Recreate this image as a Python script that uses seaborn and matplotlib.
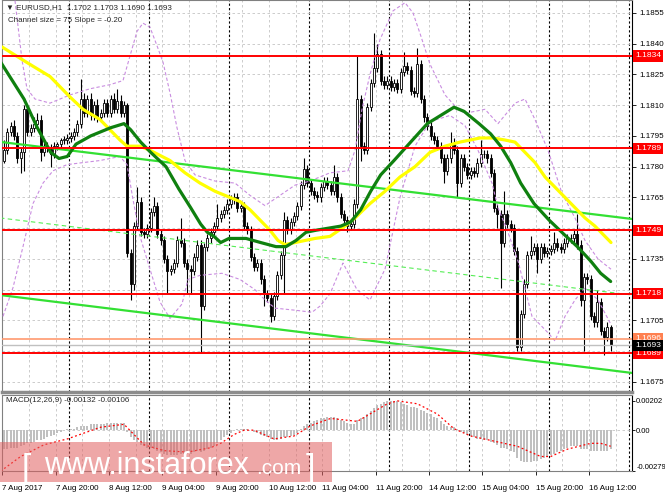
import matplotlib
matplotlib.use('Agg')
import matplotlib.pyplot as plt
from matplotlib.patches import Rectangle
import seaborn as sns
import numpy as np
import pandas as pd

# ---- data (7 Aug 04:00 .. 16 Aug 18:00) ----
first_open = 1.1783
closes = [
    1.1788, 1.1797, 1.1800, 1.1795, 1.1784, 1.1787, 1.1808, 1.1797, 1.1799, 1.1801,
    1.1803, 1.1787, 1.1790, 1.1789, 1.1786, 1.1790, 1.1791, 1.1793, 1.1793, 1.1794,
    1.1795, 1.1797, 1.1801, 1.1813, 1.1806, 1.1813, 1.1805, 1.1810, 1.1804, 1.1806,
    1.1811, 1.1806, 1.1813, 1.1808, 1.1812, 1.1806, 1.1810, 1.1738, 1.1723, 1.1751,
    1.1763, 1.1748, 1.1747, 1.1750, 1.1758, 1.1761, 1.1747, 1.1744, 1.1735, 1.1729,
    1.1730, 1.1733, 1.1744, 1.1743, 1.1733, 1.1730, 1.1729, 1.1736, 1.1742, 1.1712,
    1.1741, 1.1745, 1.1748, 1.1751, 1.1755, 1.1757, 1.1759, 1.1762, 1.1764, 1.1765,
    1.1760, 1.1761, 1.1751, 1.1749, 1.1736, 1.1731, 1.1733, 1.1725, 1.1718, 1.1716,
    1.1707, 1.1717, 1.1727, 1.1737, 1.1754, 1.1749, 1.1753, 1.1756, 1.1761, 1.1771,
    1.1779, 1.1772, 1.1768, 1.1766, 1.1765, 1.1770, 1.1773, 1.1771, 1.1768, 1.1775,
    1.1765, 1.1757, 1.1754, 1.1751, 1.1752, 1.1762, 1.1813, 1.1790, 1.1788, 1.1809,
    1.1821, 1.1828, 1.1835, 1.1822, 1.1820, 1.1822, 1.1819, 1.1821, 1.1818, 1.1826,
    1.1829, 1.1827, 1.1817, 1.1816, 1.1830, 1.1813, 1.1804, 1.1800, 1.1795, 1.1793,
    1.1790, 1.1784, 1.1778, 1.1784, 1.1791, 1.1788, 1.1772, 1.1784, 1.1780, 1.1776,
    1.1778, 1.1777, 1.1782, 1.1786, 1.1786, 1.1784, 1.1777, 1.1760, 1.1757, 1.1743,
    1.1757, 1.1752, 1.1750, 1.1739, 1.1692, 1.1708, 1.1723, 1.1737, 1.1739, 1.1741,
    1.1735, 1.1741, 1.1738, 1.1739, 1.1740, 1.1743, 1.1741, 1.1740, 1.1743, 1.1745,
    1.1745, 1.1747, 1.1742, 1.1715, 1.1726, 1.1725, 1.1707, 1.1704, 1.1714, 1.1700,
    1.1697, 1.1702, 1.1693,
]
# wick lengths in pips above max(open, close) / below min(open, close)
upper_wick = [
    5, 2, 2, 3, 2, 2, 2, 2, 2, 3,   3, 2, 2, 2, 2, 2, 1, 1, 2, 2,
    2, 2, 2, 10, 3, 2, 3, 2, 3, 2,  2, 2, 2, 3, 6, 3, 2, 1, 2, 2,
    7, 2, 2, 2, 2, 4, 2, 2, 2, 2,   2, 2, 2, 11, 2, 2, 2, 2, 2, 2,
    2, 2, 2, 2, 7, 2, 2, 2, 2, 2,   2, 2, 2, 2, 2, 2, 2, 2, 2, 2,
    2, 2, 2, 2, 4, 2, 2, 2, 2, 2,   5, 2, 2, 2, 2, 2, 2, 2, 2, 6,
    2, 2, 2, 2, 2, 2, 21, 2, 2, 2,  2, 17, 5, 2, 2, 2, 2, 2, 2, 2,
    7, 2, 2, 2, 8, 2, 2, 2, 2, 2,   2, 2, 2, 2, 6, 3, 2, 2, 2, 2,
    2, 2, 2, 7, 2, 2, 2, 2, 2, 2,   11, 2, 2, 2, 2, 2, 2, 2, 7, 2,
    2, 2, 2, 2, 2, 5, 2, 2, 2, 2,   2, 2, 10, 2, 2, 2, 2, 2, 6, 2,
    2, 2, 1,
]
lower_wick = [
    1, 2, 2, 2, 2, 7, 9, 2, 2, 2,   2, 4, 2, 2, 6, 2, 2, 2, 2, 2,
    2, 2, 2, 2, 2, 2, 2, 2, 2, 2,   2, 2, 2, 2, 2, 2, 2, 2, 8, 3,
    2, 2, 2, 2, 2, 2, 2, 2, 2, 11,  2, 2, 2, 2, 2, 12, 11, 2, 2, 23,
    2, 2, 2, 2, 2, 2, 2, 2, 2, 2,   2, 2, 2, 2, 2, 2, 2, 2, 6, 2,
    3, 2, 2, 2, 19, 2, 2, 2, 2, 2,  2, 2, 2, 2, 2, 2, 2, 2, 2, 2,
    2, 2, 2, 3, 2, 2, 2, 7, 2, 2,   2, 2, 2, 2, 2, 2, 2, 2, 2, 2,
    2, 2, 2, 2, 2, 2, 2, 2, 2, 2,   2, 2, 6, 2, 2, 2, 7, 2, 2, 2,
    2, 2, 2, 2, 2, 2, 2, 2, 7, 22,  2, 2, 2, 2, 2, 2, 2, 2, 2, 2,
    7, 2, 2, 2, 2, 2, 2, 2, 2, 2,   2, 2, 2, 3, 25, 2, 2, 2, 2, 2,
    9, 2, 3,
]

# moving averages (bar index, price)
green_bars = [-1, 6, 10, 14, 16.5, 19, 21.6, 26, 32, 36, 38, 41, 44, 48.6, 52.5, 56, 59, 61, 63, 65,
              67.5, 72.6, 77, 81.6, 84.6, 87.6, 90.6, 93.6, 101, 104, 107, 110, 113, 117, 122, 127,
              132, 135, 138, 142.5, 146, 149, 152, 155, 159, 163.5, 168, 172, 176, 179, 182]
green_prices = [1.1831, 1.1813, 1.1799, 1.1787, 1.1784, 1.1785, 1.1791, 1.1795, 1.1799, 1.1801,
                1.1798, 1.1792, 1.1787, 1.1780, 1.1769, 1.1760, 1.1752, 1.1748, 1.1746, 1.1743,
                1.1745, 1.1745, 1.1743, 1.1741, 1.1741, 1.1744, 1.1748, 1.1749, 1.1751, 1.1753,
                1.1759, 1.1768, 1.1776, 1.1783, 1.1792, 1.1801, 1.1806, 1.1809, 1.1807, 1.1801,
                1.1796, 1.1790, 1.1782, 1.1772, 1.1762, 1.1754, 1.1747, 1.1741, 1.1734, 1.1728, 1.1724]
yellow_bars = [-1.2, 5.7, 8.7, 13.8, 16.8, 19.8, 23.7, 28.8, 31.8, 34.8, 36.9, 40.8, 43.8, 49.8,
               54.3, 58.8, 63.3, 67.8, 70.8, 73.8, 76.8, 79.8, 82.2, 84.3, 87.3, 90.3, 93.3, 97.8,
               102.3, 105.3, 109.8, 114.3, 118.8, 123.3, 127.8, 132.3, 136.8, 142.8, 146.7, 150.3,
               153.3, 156.3, 159.3, 162.3, 165.3, 168.3, 171.3, 174.3, 177.3, 180.3, 182.1]
yellow_prices = [1.1839, 1.1832, 1.1829, 1.1824, 1.1819, 1.1814, 1.1808, 1.1803, 1.1798, 1.1793,
                 1.1790, 1.1790, 1.1788, 1.1783, 1.1777, 1.1772, 1.1768, 1.1765, 1.1763, 1.1759,
                 1.1754, 1.1749, 1.1744, 1.1742, 1.1743, 1.1744, 1.1745, 1.1746, 1.1751, 1.1755,
                 1.1762, 1.1768, 1.1775, 1.1780, 1.1787, 1.1790, 1.1792, 1.1794, 1.1794, 1.1793,
                 1.1792, 1.1787, 1.1782, 1.1775, 1.1770, 1.1765, 1.1760, 1.1755, 1.1751, 1.1746, 1.1743]

# bands (purple dashed)
band_up_bars = [3.3, 5.4, 6.9, 9.3, 13.8, 19.8, 25.8, 31.8, 35.7, 37.8, 39.9, 41.7, 43.8, 45.9, 47.7,
                49.8, 51.9, 54.3, 57.3, 63.3, 69.3, 73.8, 78.3, 82.8, 87.3, 91.8, 97.8, 103.2, 105.3,
                107.4, 109.8, 112.8, 116.7, 120.3, 122.7, 124.8, 127.8, 132.3, 136.2, 138.3, 144.3,
                148.2, 153.3, 156.3, 159.3, 163.2, 167.4, 171.3, 174.3, 178.2, 182.1]
band_up_prices = [1.1861, 1.1832, 1.1818, 1.1813, 1.1811, 1.1815, 1.1818, 1.1820, 1.1822, 1.1834,
                  1.1846, 1.1850, 1.1848, 1.1839, 1.1831, 1.1816, 1.1799, 1.1783, 1.1776, 1.1773,
                  1.1772, 1.1766, 1.1761, 1.1766, 1.1771, 1.1773, 1.1777, 1.1778, 1.1788, 1.1808,
                  1.1825, 1.1842, 1.1856, 1.1860, 1.1855, 1.1845, 1.1830, 1.1815, 1.1808, 1.1806,
                  1.1808, 1.1801, 1.1811, 1.1813, 1.1803, 1.1788, 1.1767, 1.1755, 1.1744, 1.1735, 1.1730]
band_lo_bars = [-0.3, 2.7, 5.7, 8.7, 11.7, 14.7, 18.9, 23.7, 28.8, 34.8, 36.9, 38.7, 40.8, 43.8,
                46.8, 49.8, 53.4, 55.2, 58.8, 65.4, 70.8, 75.3, 78.3, 81.3, 87.3, 92.4, 94.8, 97.8,
                101.7, 105.9, 109.8, 114.3, 118.8, 123.3, 127.8, 133.8, 138.3, 142.2, 146.4, 148.2,
                151.2, 154.2, 158.4, 163.2, 165.3, 168.3, 171.3, 174.3, 178.2, 182.1]
band_lo_prices = [1.1707, 1.1721, 1.1741, 1.1762, 1.1772, 1.1778, 1.1781, 1.1782, 1.1783, 1.1785,
                  1.1781, 1.1764, 1.1746, 1.1730, 1.1714, 1.1706, 1.1713, 1.1725, 1.1727, 1.1728,
                  1.1725, 1.1720, 1.1715, 1.1711, 1.1710, 1.1709, 1.1712, 1.1718, 1.1733, 1.1720,
                  1.1715, 1.1730, 1.1765, 1.1790, 1.1802, 1.1805, 1.1800, 1.1788, 1.1772, 1.1760,
                  1.1748, 1.1734, 1.1707, 1.1699, 1.1695, 1.1707, 1.1715, 1.1721, 1.1715, 1.1703]

# regression channel (end points)
channel_bars = [-1.2, 188.4]
channel_upper = [1.17921, 1.17545]
channel_mid = [1.17550, 1.17174]
channel_lower = [1.17174, 1.16794]

red_levels = [1.1834, 1.1789, 1.1749, 1.1718, 1.1689]
ask_level = 1.1696
bid_level = 1.1693

# MACD(12,26,9), in units of 0.0001
macd_main = [
    -13, -13, -12, -12, -12, -11, -10, -9, -9, -8,   -7, -7, -6, -5, -4, -3, -2, -1, 0, 1,
    1, 1, 2, 3, 3, 3, 4, 4, 4, 4,                    4, 5, 5, 5, 5, 5, 5, -1, -5, -7,
    -8, -10, -11, -12, -12, -13, -14, -15, -16, -17, -17, -17, -17, -16, -16, -16, -16, -15, -14, -15,
    -14, -13, -12, -11, -9, -7, -5, -3, -2, 0,       1, 1, 1, 1, 0, -1, -2, -3, -4, -5,
    -6, -7, -7, -6, -5, -5, -4, -3, -2, 1,           3, 4, 5, 6, 7, 8, 8, 9, 9, 9,
    8, 7, 6, 5, 4, 4, 7, 8, 9, 11,                   13, 15, 17, 18, 19, 20, 20, 20, 20, 19,
    18, 17, 16, 16, 15, 14, 13, 12, 11, 9,           8, 6, 4, 3, 2, 2, 1, -1, -2, -3,
    -4, -5, -6, -6, -7, -7, -8, -9, -10, -12,        -12, -13, -14, -15, -19, -21, -22, -22, -22, -21,
    -21, -20, -19, -18, -17, -16, -15, -14, -13, -12, -11, -11, -11, -13, -13, -13, -14, -14, -14, -14,
    -14, -14, -13,
]
signal_bars = [-1, 5, 12, 19, 29, 36, 39, 42, 48, 55, 62, 65, 69, 72, 75, 81, 87, 92, 98, 106,
               115, 118, 124, 130, 135, 140, 146, 154, 161, 164, 169, 176, 179, 182]
signal_vals = [-28, -18, -10, -6, 2, 4, -3, -10, -14, -15, -12, -9, -3, 0, 0, -6, -4, 3, 8, 6,
               18, 20, 18, 11, 1, -4, -7, -11, -18, -18, -13, -9, -9, -11]

price_ticks = [1.1675, 1.1690, 1.1705, 1.1720, 1.1735, 1.1750, 1.1765, 1.1780,
               1.1795, 1.1810, 1.1825, 1.1840, 1.1855]
hidden_ticks = [1.1690, 1.1720, 1.1750]   # covered by the price tags
x_labels = ['7 Aug 2017', '7 Aug 20:00', '8 Aug 12:00', '9 Aug 04:00', '9 Aug 20:00',
            '10 Aug 12:00', '11 Aug 04:00', '11 Aug 20:00', '14 Aug 12:00', '15 Aug 04:00',
            '15 Aug 20:00', '16 Aug 12:00']
x_label_bars = [0, 16, 32, 48, 64, 80, 96, 112, 128, 144, 160, 176]
day_start_bars = [20, 44, 68, 92, 116, 140, 164, 188]

PIP = 0.0001
FS = 5.8

sns.set_theme(style='white')
plt.rcParams['font.family'] = ['Liberation Sans', 'DejaVu Sans']

candles = pd.DataFrame({'bar': np.arange(len(closes)), 'close': closes})
candles['open'] = [first_open] + closes[:-1]
body_top = candles[['open', 'close']].max(axis=1)
body_bot = candles[['open', 'close']].min(axis=1)
candles['high'] = body_top + np.array(upper_wick) * PIP
candles['low'] = body_bot - np.array(lower_wick) * PIP
bull = candles['close'] >= candles['open']

W, H = 665, 499
fig = plt.figure(figsize=(6.65, 4.99), dpi=100)
fig.patch.set_facecolor('white')
ax = fig.add_axes([2 / W, 1 - 392 / H, 630 / W, 392 / H])
axm = fig.add_axes([2 / W, 1 - 471 / H, 630 / W, 76 / H])
XMIN, XMAX = -0.6, 188.4

grid_kw = dict(color='#c4c4c4', lw=0.6, linestyle=(0, (3, 3)), zorder=1)
for a in (ax, axm):
    a.set_facecolor('white')
    a.set_xlim(XMIN, XMAX)
    for g in np.arange(7.5, 188, 8):
        a.axvline(g, **grid_kw)
    for d in day_start_bars:
        a.axvline(d - 0.5, color='black', lw=0.8, linestyle=(0, (2, 2)), zorder=1)
    for s in a.spines.values():
        s.set_color('#808080')
        s.set_linewidth(0.8)
    a.spines['right'].set_color('black')

# ---- main price panel ----
for t in price_ticks:
    ax.axhline(t, **grid_kw)

ax.vlines(candles['bar'], candles['low'], candles['high'], color='black', lw=0.8, zorder=3)
ax.bar(candles['bar'], (body_top - body_bot).clip(lower=0.00003), bottom=body_bot, width=0.62,
       color=np.where(bull, 'white', 'black'), edgecolor='black', linewidth=0.6, zorder=4)

band_kw = dict(color='#c98de0', lw=0.8, linestyle=(0, (3, 2)), zorder=5)
sns.lineplot(x=band_up_bars, y=band_up_prices, ax=ax, **band_kw)
sns.lineplot(x=band_lo_bars, y=band_lo_prices, ax=ax, **band_kw)
sns.lineplot(x=channel_bars, y=channel_mid, ax=ax, color='#55ee55', lw=0.8,
             linestyle=(0, (4, 3)), zorder=5)
sns.lineplot(x=channel_bars, y=channel_upper, ax=ax, color='#33e033', lw=1.6, zorder=6)
sns.lineplot(x=channel_bars, y=channel_lower, ax=ax, color='#33e033', lw=1.6, zorder=6)
sns.lineplot(x=yellow_bars, y=yellow_prices, ax=ax, color='#ffff00', lw=2.3, zorder=6)
sns.lineplot(x=green_bars, y=green_prices, ax=ax, color='#0f800f', lw=2.3, zorder=7)

for lv in red_levels:
    ax.axhline(lv, color='#ff0000', lw=1.4, zorder=8)
ax.axhline(ask_level, color='#ff9a70', lw=1.2, zorder=8)
ax.axhline(bid_level, color='#c0c0c0', lw=1.0, zorder=8)

ax.set_ylim(1.16701, 1.18613)
ax.yaxis.tick_right()
ax.set_yticks(price_ticks)
ax.set_yticklabels(['' if t in hidden_ticks else f'{t:.4f}' for t in price_ticks])
ax.tick_params(axis='y', length=3, width=0.6, labelsize=FS, pad=2, colors='black')
ax.set_xticks([])
ax.set_xlabel('')
ax.set_ylabel('')
ax.spines['bottom'].set_linewidth(2.5)
ax.spines['bottom'].set_color('#8c8c8c')


def price_tag(level, face):
    ax.annotate(f'{level:.4f}', xy=(1.0, level), xycoords=('axes fraction', 'data'),
                xytext=(2.2, 0), textcoords='offset points', ha='left', va='center',
                color='white', fontsize=6.1, annotation_clip=False, zorder=10,
                bbox=dict(boxstyle='square,pad=0.24', fc=face, ec='none'))


for lv in red_levels:
    price_tag(lv, '#ff0000')
price_tag(ask_level, '#ff8050')
price_tag(bid_level, 'black')

fig.text(6 / W, 1 - 8 / H, '\u25bc EURUSD,H1  1.1702 1.1703 1.1690 1.1693', fontsize=FS,
         va='center', ha='left')
fig.text(8 / W, 1 - 20 / H, 'Channel size = 75 Slope = -0.20', fontsize=FS, va='center', ha='left')

# ---- MACD panel ----
axm.axhline(0, **grid_kw)
axm.bar(np.arange(len(macd_main)), np.array(macd_main) * PIP, width=0.55, color='#c0c0c0',
        linewidth=0, zorder=3)
sns.lineplot(x=signal_bars, y=np.array(signal_vals) * PIP, ax=axm, color='#ff0000', lw=0.9,
             linestyle=(0, (1.5, 2)), zorder=4)
axm.set_ylim(-0.00279, 0.0024)
axm.yaxis.tick_right()
axm.set_yticks([0.00202, 0.0, -0.00279])
axm.set_yticklabels(['0.00202', '0.00', '-0.00279'])
axm.get_yticklabels()[2].set_va('bottom')
axm.tick_params(axis='y', length=2, width=0.6, labelsize=5.5, pad=1, colors='black')
axm.set_xticks([b - 0.5 for b in x_label_bars])
axm.set_xticklabels(x_labels)
for lab in axm.get_xticklabels():
    lab.set_ha('left')
axm.tick_params(axis='x', length=3, width=0.6, labelsize=FS, pad=7, colors='black',
                bottom=True)
axm.set_xlabel('')
axm.set_ylabel('')
axm.text(4 / 630, 1 - 6 / 76, 'MACD(12,26,9) -0.00132 -0.00106', transform=axm.transAxes,
         fontsize=FS, va='center', ha='left')

# watermark
fig.add_artist(Rectangle((0, 1 - 482 / H), 332 / W, 40 / H, transform=fig.transFigure,
                         fc='#e06060', ec='none', alpha=0.55, zorder=20))
fig.text(22 / W, 1 - 468 / H, '[', color='white', fontsize=24, va='center', ha='left',
         fontweight='light', zorder=21)
fig.text(44 / W, 1 - 466 / H, 'www.instaforex', color='white', fontsize=22, va='center',
         ha='left', zorder=21)
fig.text(256 / W, 1 - 469 / H, '.com', color='white', fontsize=15, va='center', ha='left',
         zorder=21)
fig.text(306 / W, 1 - 468 / H, ']', color='white', fontsize=24, va='center', ha='left', zorder=21)

fig.savefig('out.png', dpi=100)
